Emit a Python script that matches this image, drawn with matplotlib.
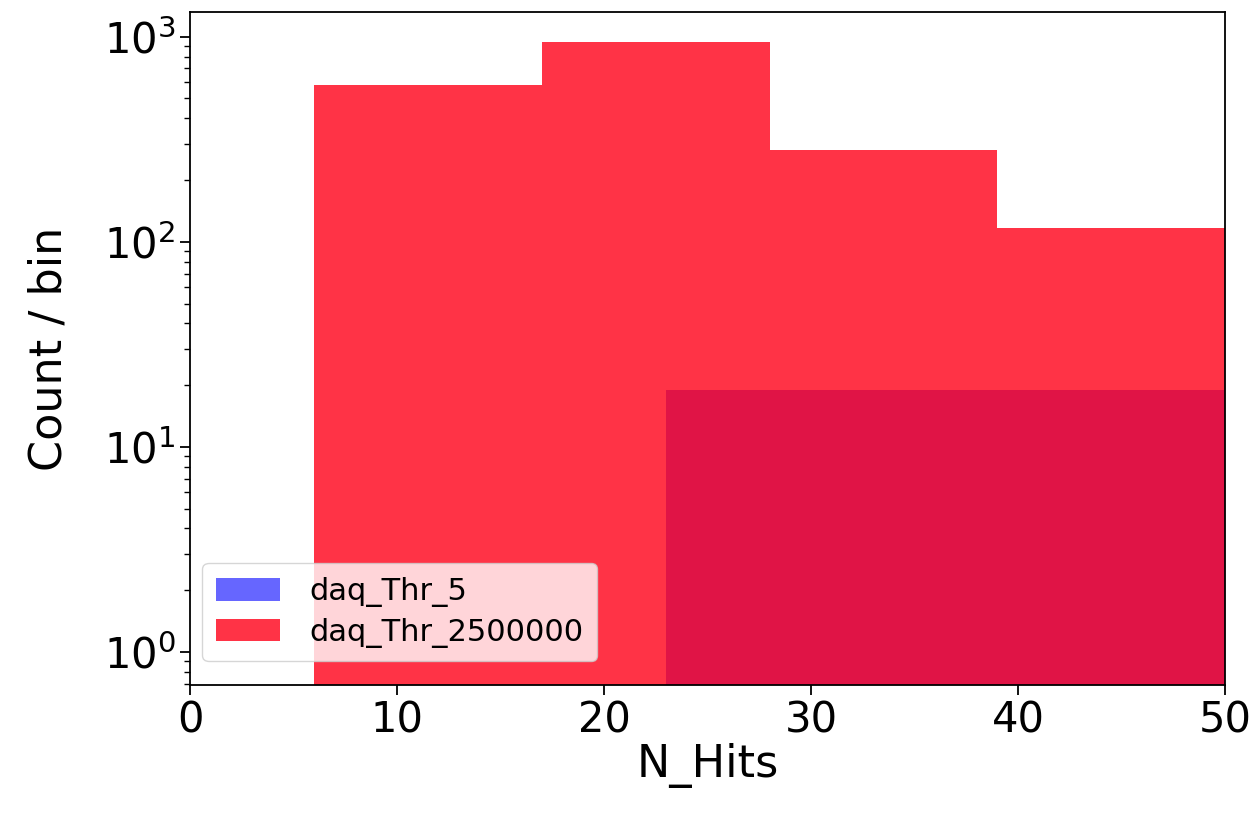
import numpy as np
import matplotlib
matplotlib.use("Agg")
import matplotlib.pyplot as plt

# Histogram contents
red_edges = [6, 17, 28, 39, 50]
red_counts = [583, 946, 281, 117]
blue_edges = [23, 50]
blue_counts = [19]

labels = ["daq_Thr_5", "daq_Thr_2500000"]


def main():
    fig = plt.figure(figsize=(12.55, 8.15), dpi=100)
    ax = fig.add_axes([190 / 1255, 130 / 815, 1035 / 1255, 673 / 815])

    ax.hist(blue_edges[:-1], bins=blue_edges, weights=blue_counts,
            color="#0000ff", alpha=0.6, label=labels[0])
    ax.hist(red_edges[:-1], bins=red_edges, weights=red_counts,
            color="#ff0018", alpha=0.8, label=labels[1])

    ax.set_yscale("log")
    ax.set_xlim(0, 50)
    ax.set_ylim(0.69, 1320)
    ax.set_xlabel("N_Hits", fontsize=32, labelpad=1)
    ax.set_ylabel("Count / bin", fontsize=32, labelpad=24)
    ax.tick_params(axis="both", which="major", labelsize=30, length=7, width=1.3)
    ax.tick_params(axis="y", which="minor", length=4.5, width=1.0)
    for s in ax.spines.values():
        s.set_linewidth(1.3)

    ax.legend(loc="lower left", bbox_to_anchor=(0.012, 0.035), fontsize=22,
              handlelength=2.1, handleheight=0.75, handletextpad=0.95,
              borderpad=0.45, labelspacing=0.35, borderaxespad=0)

    fig.savefig("out.png", dpi=100)


if __name__ == "__main__":
    main()
